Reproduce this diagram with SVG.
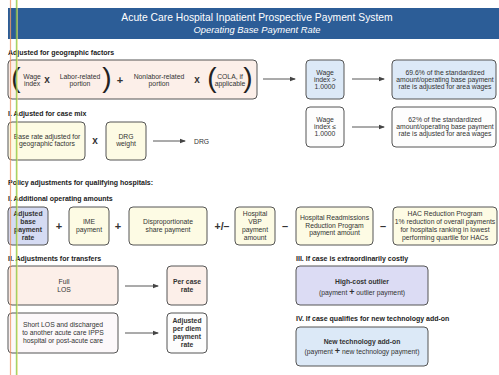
<svg xmlns="http://www.w3.org/2000/svg" width="499" height="375" viewBox="0 0 499 375">
<style>
text{font-family:"Liberation Sans",Arial,sans-serif;fill:#333}
.h{font-size:7px;font-weight:bold;fill:#222}
.t{font-size:6.8px;text-anchor:middle}
.b{font-weight:bold}
.op{font-weight:bold;text-anchor:middle;fill:#333}
.par{font-size:28px;text-anchor:middle;fill:#222}
.box{stroke:#555;stroke-width:1}
.pink{fill:#fcefe9}.yel{fill:#fdfbe4}.blue{fill:#dce9f7}.lav{fill:#dcdcf4}.pur{fill:#d5dbf3}.wht{fill:#fdfdfd}.lpk{fill:#fcf8fa}
.arr{stroke:#444;stroke-width:0.9;fill:none;marker-end:url(#ah)}
</style>
<defs>
<marker id="ah" markerWidth="6" markerHeight="6" refX="5" refY="3" orient="auto" markerUnits="userSpaceOnUse">
<path d="M0,0.8 L6,3 L0,5.2 Z" fill="#444"/>
</marker>
</defs>
<rect width="499" height="375" fill="#fff"/>
<g id="header">
<rect x="8" y="8" width="491" height="31" fill="#2c5d97"/>
<text x="257" y="21" font-size="10.3" text-anchor="middle" style="fill:#fff">Acute Care Hospital Inpatient Prospective Payment System</text>
<text x="257" y="33" font-size="9.4" font-style="italic" text-anchor="middle" style="fill:#fff">Operating Base Payment Rate</text>
</g>
<g id="labels">
<text class="h" x="8" y="54.5">Adjusted for geographic factors</text>
<text class="h" x="8" y="115.5">I. Adjusted for case mix</text>
<text class="h" x="8" y="184.5">Policy adjustments for qualifying hospitals:</text>
<text class="h" x="8" y="200.5">I. Additional operating amounts</text>
<text class="h" x="8" y="260.5">II. Adjustments for transfers</text>
<text class="h" x="296" y="260.5">III. If case is extraordinarily costly</text>
<text class="h" x="296" y="320.5">IV. If case qualifies for new technology add-on</text>
</g>
<g id="geo">
<rect class="box pink" x="8" y="60" width="249" height="39" rx="4"/>
<text class="par" x="16" y="87">(</text>
<text class="t" x="32" y="78.5">Wage</text><text class="t" x="32" y="85.5">index</text>
<text class="op" x="47" y="83" font-size="10">x</text>
<text class="t" x="80" y="78.5">Labor-related</text><text class="t" x="80" y="85.5">portion</text>
<text class="par" x="107" y="87">)</text>
<text class="op" x="120" y="83.5" font-size="11">+</text>
<text class="t" x="159" y="78.5">Nonlabor-related</text><text class="t" x="159" y="85.5">portion</text>
<text class="op" x="197" y="83" font-size="10">x</text>
<text class="par" x="212" y="87">(</text>
<text class="t" x="230" y="78.5">COLA, if</text><text class="t" x="230" y="85.5">applicable</text>
<text class="par" x="248" y="87">)</text>
</g>
<g id="wage-gt">
<rect class="box blue" x="306" y="60" width="38" height="39" rx="4"/>
<text class="t" x="325" y="74.5">Wage</text><text class="t" x="325" y="81.5">index &gt;</text><text class="t" x="325" y="88.5">1.0000</text>
</g>
<g id="res-696">
<rect class="box blue" x="392" y="60" width="104" height="39" rx="4"/>
<text class="t" x="445" y="74.5">69.6% of the standardized</text><text class="t" x="445" y="81.5">amount/operating base payment</text><text class="t" x="445" y="88.5">rate is adjusted for area wages</text>
</g>
<g id="base-rate">
<rect class="box yel" x="8" y="122" width="77" height="38" rx="4"/>
<text class="t" x="47" y="139.4">Base rate adjusted for</text><text class="t" x="47" y="146.4">geographic factors</text>
</g>
<text class="op" x="95" y="144" font-size="10">x</text>
<g id="drg-weight">
<rect class="box yel" x="106" y="122" width="40" height="38" rx="4"/>
<text class="t" x="126" y="139.4">DRG</text><text class="t" x="126" y="146.4">weight</text>
</g>
<g id="drg"><text x="194" y="143.5" font-size="6.8">DRG</text></g>
<g id="wage-le">
<rect class="box wht" x="306" y="107" width="38" height="40" rx="4"/>
<text class="t" x="325" y="121.5">Wage</text><text class="t" x="325" y="128.5">index ≤</text><text class="t" x="325" y="136">1.0000</text>
</g>
<g id="res-62">
<rect class="box wht" x="392" y="107" width="104" height="40" rx="4"/>
<text class="t" x="445" y="121.5">62% of the standardized</text><text class="t" x="445" y="128.5">amount/operating base payment</text><text class="t" x="445" y="136">rate is adjusted for area wages</text>
</g>
<g id="adj-base">
<rect class="box pur" x="8" y="207" width="40" height="38" rx="4"/>
<text class="t b" x="28" y="216.4">Adjusted</text><text class="t b" x="28" y="224.4">base</text><text class="t b" x="28" y="232.4">payment</text><text class="t b" x="28" y="240.4">rate</text>
</g>
<text class="op" x="59" y="229.5" font-size="11">+</text>
<g id="ime">
<rect class="box yel" x="69" y="207" width="40" height="38" rx="4"/>
<text class="t" x="89" y="224.4">IME</text><text class="t" x="89" y="232.4">payment</text>
</g>
<text class="op" x="118" y="229.5" font-size="11">+</text>
<g id="dsh">
<rect class="box yel" x="129" y="207" width="78" height="38" rx="4"/>
<text class="t" x="168" y="224.4">Disproportionate</text><text class="t" x="168" y="232.4">share payment</text>
</g>
<text class="op" x="222" y="229.5" font-size="10.5">+/–</text>
<g id="vbp">
<rect class="box yel" x="235" y="207" width="40" height="38" rx="4"/>
<text class="t" x="255" y="216.4">Hospital</text><text class="t" x="255" y="224.4">VBP</text><text class="t" x="255" y="232.4">payment</text><text class="t" x="255" y="240.4">amount</text>
</g>
<text class="op" x="285" y="229.5" font-size="11">–</text>
<g id="hrrp">
<rect class="box yel" x="296" y="207" width="77" height="38" rx="4"/>
<text class="t" x="334.5" y="220">Hospital Readmissions</text><text class="t" x="334.5" y="227.5">Reduction Program</text><text class="t" x="334.5" y="235">payment amount</text>
</g>
<text class="op" x="383" y="229.5" font-size="11">–</text>
<g id="hac">
<rect class="box yel" x="393" y="207" width="104" height="38" rx="4"/>
<text class="t" x="445" y="216.4">HAC Reduction Program</text><text class="t" x="445" y="224.4">1% reduction of overall payments</text><text class="t" x="445" y="232.4">for hospitals ranking in lowest</text><text class="t" x="445" y="240.4">performing quartile for HACs</text>
</g>
<g id="full-los">
<rect class="box pink" x="8" y="266" width="110" height="39" rx="4"/>
<text class="t" x="64" y="284.4">Full</text><text class="t" x="64" y="292.4">LOS</text>
</g>
<g id="per-case">
<rect class="box pink" x="167" y="266" width="40" height="39" rx="4"/>
<text class="t b" x="187" y="284.4">Per case</text><text class="t b" x="187" y="292.4">rate</text>
</g>
<g id="short-los">
<rect class="box lpk" x="8" y="313" width="110" height="40" rx="4"/>
<text class="t" x="63" y="327.4">Short LOS and discharged</text><text class="t" x="63" y="335.4">to another acute care IPPS</text><text class="t" x="63" y="343.4">hospital or post-acute care</text>
</g>
<g id="per-diem">
<rect class="box wht" x="167" y="313" width="40" height="40" rx="4"/>
<text class="t b" x="187" y="323.4">Adjusted</text><text class="t b" x="187" y="331.4">per diem</text><text class="t b" x="187" y="339.4">payment</text><text class="t b" x="187" y="347.4">rate</text>
</g>
<g id="outlier">
<rect class="box lav" x="296" y="266" width="132" height="39" rx="4"/>
<text class="t b" x="362" y="283.5">High-cost outlier</text>
<text class="t" x="362" y="294.5">(payment <tspan font-weight="bold" font-size="9">+</tspan> outlier payment)</text>
</g>
<g id="newtech">
<rect class="box blue" x="296" y="327" width="132" height="39" rx="4"/>
<text class="t b" x="362" y="343.5">New technology add-on</text>
<text class="t" x="362" y="354">(payment <tspan font-weight="bold" font-size="9">+</tspan> new technology payment)</text>
</g>
<g id="connectors">
<line class="arr" x1="263" y1="79" x2="295" y2="79"/>
<line class="arr" x1="352" y1="79" x2="384" y2="79"/>
<line class="arr" x1="352" y1="127" x2="384" y2="127"/>
<line class="arr" x1="153" y1="141" x2="185" y2="141"/>
<line class="arr" x1="125" y1="286" x2="158" y2="286"/>
<line class="arr" x1="125" y1="333" x2="158" y2="333"/>
</g>
<g id="scan-lines" opacity="0.8">
<line x1="10.5" y1="0" x2="10.5" y2="375" stroke="#f09a6a" stroke-width="1.2"/>
<line x1="16.4" y1="0" x2="16.4" y2="375" stroke="#8cc84a" stroke-width="1.2"/>
<line x1="17.5" y1="0" x2="17.5" y2="375" stroke="#e6dc6a" stroke-width="0.8"/>
</g>
</svg>
